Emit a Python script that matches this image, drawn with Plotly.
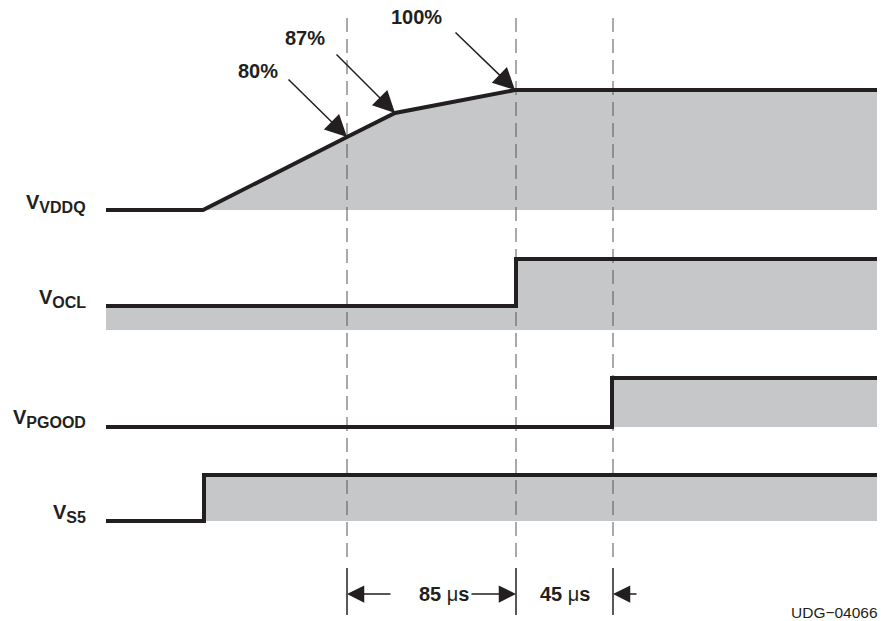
import plotly.graph_objects as go

# ---- waveform data (diagram time units on x, diagram level units on y; y axis reversed) ----
vddq_t = [106, 203, 347, 395, 515, 877]
vddq_v = [210, 210, 137, 113, 90, 90]
vddq_fill_from = 1
vddq_fill_base = 210

ocl_t = [106, 516, 516, 877]
ocl_v = [306, 306, 259, 259]
ocl_fill_from = 0
ocl_fill_base = 330

pgood_t = [106, 612, 612, 877]
pgood_v = [427, 427, 378, 378]
pgood_fill_from = 1
pgood_fill_base = 427

s5_t = [106, 204, 204, 877]
s5_v = [521, 521, 475, 475]
s5_fill_from = 1
s5_fill_base = 521

signal_subs = ["VDDQ", "OCL", "PGOOD", "S5"]
signal_label_levels = [203, 298, 418, 513]

# timing markers
marker_t = [347, 516, 613]
marker_top = 18
marker_bottom = 563
ext_top = 568
ext_bottom = 615

# percentage callouts: label, label position, arrow tail, arrow tip (index into vddq)
pct_labels = ["80%", "87%", "100%"]
pct_label_t = [258, 305, 416]
pct_label_v = [71, 38, 17]
pct_tail_t = [287, 335, 454]
pct_tail_v = [78, 53, 31]
pct_tip_idx = [2, 3, 4]

# interval dimensions
interval_labels = ["85 \u03bcs", "45 \u03bcs"]
interval_label_t = [444, 565]
dim_level = 594

GRAY = "#c6c7c9"
INK = "#231f20"
FONT = "Liberation Sans, Arial, Helvetica, sans-serif"

fig = go.Figure()

signals = [
    (vddq_t, vddq_v, vddq_fill_from, vddq_fill_base),
    (ocl_t, ocl_v, ocl_fill_from, ocl_fill_base),
    (pgood_t, pgood_v, pgood_fill_from, pgood_fill_base),
    (s5_t, s5_v, s5_fill_from, s5_fill_base),
]

# gray fills
for t, v, f, base in signals:
    xs = list(t[f:]) + [t[-1], t[f]]
    ys = list(v[f:]) + [base, base]
    fig.add_trace(go.Scatter(x=xs, y=ys, mode="lines", fill="toself",
                             fillcolor=GRAY, line=dict(width=0),
                             hoverinfo="skip", showlegend=False))

# dashed timing markers
for t in marker_t:
    fig.add_trace(go.Scatter(x=[t, t], y=[marker_top, marker_bottom], mode="lines",
                             line=dict(color="#555555", width=1, dash="14px,7px"),
                             hoverinfo="skip", showlegend=False))
    fig.add_trace(go.Scatter(x=[t, t], y=[ext_top, ext_bottom], mode="lines",
                             line=dict(color=INK, width=1.5),
                             hoverinfo="skip", showlegend=False))

# waveform lines
for t, v, f, base in signals:
    fig.add_trace(go.Scatter(x=t, y=v, mode="lines",
                             line=dict(color=INK, width=4),
                             hoverinfo="skip", showlegend=False))

annotations = []
# signal labels
for sub, lv in zip(signal_subs, signal_label_levels):
    annotations.append(dict(x=88, y=lv, xref="x", yref="y", xanchor="right", yanchor="middle",
                            text=f'<b>V<sub><span style="font-size:16px">{sub}</span></sub></b>',
                            showarrow=False,
                            font=dict(family=FONT, size=20, color=INK)))

# percentage callouts
for lab, lt, lvv, tt, tv, idx in zip(pct_labels, pct_label_t, pct_label_v,
                                     pct_tail_t, pct_tail_v, pct_tip_idx):
    annotations.append(dict(x=lt, y=lvv, xref="x", yref="y", text=f"<b>{lab}</b>",
                            showarrow=False, font=dict(family=FONT, size=20, color=INK)))
    annotations.append(dict(x=vddq_t[idx], y=vddq_v[idx], xref="x", yref="y",
                            ax=tt, ay=tv, axref="x", ayref="y", text="",
                            showarrow=True, arrowhead=2, arrowsize=2.9, arrowwidth=1.5,
                            arrowcolor=INK, standoff=0))

# interval labels
for lab, lt in zip(interval_labels, interval_label_t):
    num, unit = lab.split(" ")
    annotations.append(dict(x=lt, y=dim_level, xref="x", yref="y",
                            text=f"<b>{num} </b>{unit[0]}<b>{unit[1:]}</b>",
                            showarrow=False, font=dict(family=FONT, size=20, color=INK)))

# dimension arrows: (tip, tail)
dim_arrows = [(marker_t[0], 392), (marker_t[1], 470), (marker_t[2], 638)]
for tip, tail in dim_arrows:
    annotations.append(dict(x=tip, y=dim_level, xref="x", yref="y",
                            ax=tail, ay=dim_level, axref="x", ayref="y", text="",
                            showarrow=True, arrowhead=2, arrowsize=2.3, arrowwidth=1.5,
                            arrowcolor=INK, standoff=0))

annotations.append(dict(x=880, y=612, xref="x", yref="y", xanchor="right", yanchor="middle",
                        text="UDG\u221204066", showarrow=False,
                        font=dict(family=FONT, size=15.5, color=INK)))

fig.update_layout(
    width=881, height=621,
    margin=dict(l=0, r=0, t=0, b=0),
    paper_bgcolor="white", plot_bgcolor="white",
    xaxis=dict(range=[0, 881], visible=False, fixedrange=True),
    yaxis=dict(range=[621, 0], visible=False, fixedrange=True),
    annotations=annotations,
    showlegend=False,
)

fig.write_html("out.html", config={"displayModeBar": False},
               post_script="document.body.style.margin='0px';document.body.style.overflow='hidden';")
